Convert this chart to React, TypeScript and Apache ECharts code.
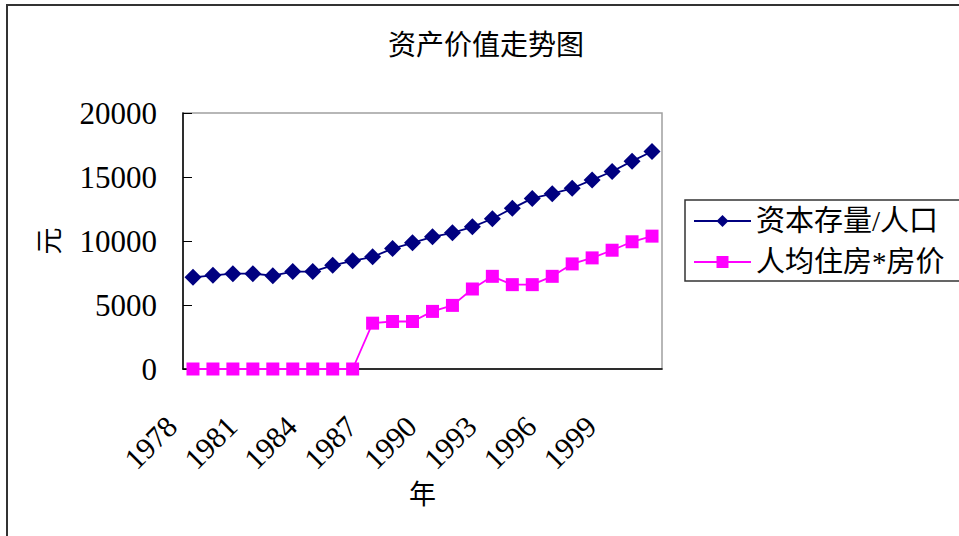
import React, { useEffect, useRef } from "react";
import * as echarts from "echarts";

const years: string[] = [
  "1978", "1979", "1980", "1981", "1982", "1983", "1984", "1985",
  "1986", "1987", "1988", "1989", "1990", "1991", "1992", "1993",
  "1994", "1995", "1996", "1997", "1998", "1999", "2000", "2001",
];

const capitalPerCapita: number[] = [
  7160, 7320, 7450, 7450, 7290, 7610, 7610, 8100,
  8450, 8760, 9410, 9860, 10330, 10640, 11110, 11740,
  12550, 13330, 13700, 14120, 14770, 15430, 16240, 16990,
];

const housingValue: number[] = [
  0, 0, 0, 0, 0, 0, 0, 0,
  0, 3580, 3710, 3710, 4500, 4970, 6250, 7240,
  6590, 6590, 7240, 8210, 8680, 9280, 9940, 10380,
];

const seriesNames: string[] = ["资本存量/人口", "人均住房*房价"];
const titleText = "资产价值走势图";
const yAxisName = "元";
const xAxisName = "年";

const FONT = "'Liberation Serif', 'Noto Sans CJK SC', serif";

export default function App() {
  const ref = useRef<HTMLDivElement>(null);

  useEffect(() => {
    if (!ref.current) return;
    const chart = echarts.init(ref.current, undefined, { renderer: "svg" });
    chart.setOption({
      animation: false,
      backgroundColor: "#ffffff",
      title: {
        text: titleText,
        left: 383,
        top: 24,
        textStyle: {
          fontFamily: "'Noto Sans CJK SC', sans-serif",
          fontSize: 28,
          fontWeight: "normal",
          color: "#000",
        },
      },
      graphic: [
        {
          type: "rect",
          shape: { x: 7, y: 5, width: 1000, height: 600 },
          style: { fill: "none", stroke: "#333", lineWidth: 2 },
          silent: true,
        },
        {
          type: "rect",
          shape: { x: 685, y: 200, width: 300, height: 81 },
          style: { fill: "none", stroke: "#333", lineWidth: 1.5 },
          silent: true,
        },
      ],
      legend: {
        orient: "vertical",
        left: 693,
        top: 206,
        itemWidth: 57,
        itemHeight: 15,
        itemGap: 11,
        padding: 0,
        data: seriesNames,
        textStyle: {
          fontFamily: FONT,
          fontSize: 29,
          lineHeight: 30,
          color: "#000",
        },
      },
      grid: {
        left: 183,
        top: 113,
        right: 297,
        bottom: 167,
        show: true,
        borderColor: "#a0a0a0",
        borderWidth: 1.5,
        backgroundColor: "transparent",
      },
      xAxis: {
        type: "category",
        data: years,
        boundaryGap: true,
        name: xAxisName,
        nameLocation: "middle",
        nameGap: 110,
        nameTextStyle: {
          fontFamily: "'Noto Sans CJK SC', sans-serif",
          fontSize: 27,
          color: "#000",
        },
        axisLine: { lineStyle: { color: "#000", width: 1.5 } },
        axisTick: {
          inside: true,
          length: 9,
          interval: 0,
          lineStyle: { color: "#000" },
        },
        axisLabel: {
          interval: 2,
          rotate: 45,
          margin: 31,
          padding: [0, 30, 0, 0],
          fontFamily: FONT,
          fontSize: 30,
          color: "#000",
        },
        splitLine: { show: false },
      },
      yAxis: {
        type: "value",
        min: 0,
        max: 20000,
        interval: 5000,
        name: yAxisName,
        nameLocation: "middle",
        nameRotate: 90,
        nameGap: 122,
        nameTextStyle: {
          fontFamily: "'Noto Sans CJK SC', sans-serif",
          fontSize: 27,
          color: "#000",
        },
        axisLine: { show: true, lineStyle: { color: "#000", width: 1.5 } },
        axisTick: { show: true, inside: true, length: 9, lineStyle: { color: "#000" } },
        axisLabel: {
          margin: 26,
          formatter: (v: number) => String(v),
          fontFamily: FONT,
          fontSize: 31,
          color: "#000",
        },
        splitLine: { show: false },
      },
      series: [
        {
          name: seriesNames[0],
          type: "line",
          data: capitalPerCapita,
          symbol: "diamond",
          symbolSize: 17,
          showAllSymbol: true,
          itemStyle: { color: "#000080" },
          lineStyle: { color: "#000080", width: 1.8 },
        },
        {
          name: seriesNames[1],
          type: "line",
          data: housingValue,
          symbol: "rect",
          symbolSize: 13,
          showAllSymbol: true,
          itemStyle: { color: "#ff00ff" },
          lineStyle: { color: "#ff00ff", width: 1.8 },
        },
      ],
    });
    return () => chart.dispose();
  }, []);

  return (
    <div
      ref={ref}
      style={{ position: "fixed", left: 0, top: 0, width: 959, height: 536, background: "#fff" }}
    />
  );
}
